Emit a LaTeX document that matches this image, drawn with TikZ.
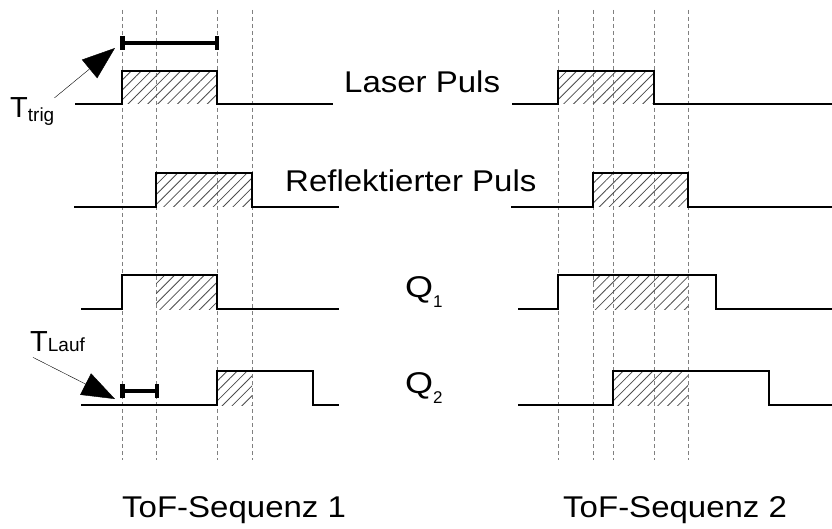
\documentclass[tikz,border=0pt]{standalone}
\usepackage{fontspec}
\setmainfont{Liberation Sans}
\usetikzlibrary{arrows.meta, patterns.meta}

\begin{document}
\begin{tikzpicture}[x=1pt, y=-1pt,
    signal/.style={line width=2.4pt, line join=miter},
    guide/.style={gray, line width=0.9pt, dash pattern=on 4pt off 3pt},
    hatch/.style={pattern={Lines[angle=45, distance=7pt, line width=0.8pt]}, pattern color=black!70},
    span/.style={line width=3.8pt, {Rectangle[length=4.5pt, width=14pt]}-{Rectangle[length=4.5pt, width=14pt]}},
    pointer/.style={thin, -{Triangle[length=33pt, width=24pt]}},
    sigtext/.style={inner sep=0pt, anchor=base west, font=\fontsize{30}{36}\selectfont}]
    \useasboundingbox (0,0) rectangle (832,529);
    % Dashed time marks
    \foreach \x in {122,156,217,252,558,593,613,654,688}
        \draw [guide] (\x,10) -- (\x,460);
    % Hatched overlap of the pulses
    \fill [hatch] (122,71) rectangle (217,104);
    \fill [hatch] (558,71) rectangle (654,104);
    \fill [hatch] (156,173) rectangle (252,207);
    \fill [hatch] (593,173) rectangle (688,207);
    \fill [hatch] (156,275) rectangle (217,309);
    \fill [hatch] (593,275) rectangle (688,309);
    \fill [hatch] (217,371) rectangle (252,405);
    \fill [hatch] (613,371) rectangle (688,405);
    % Laser pulse
    \draw [signal] (75,104) -- (122,104) -- (122,71) -- (217,71) -- (217,104) -- (333,104);
    \draw [signal] (512,104) -- (558,104) -- (558,71) -- (654,71) -- (654,104) -- (832,104);
    % Reflected pulse
    \draw [signal] (74,207) -- (156,207) -- (156,173) -- (252,173) -- (252,207) -- (339,207);
    \draw [signal] (511,207) -- (593,207) -- (593,173) -- (688,173) -- (688,207) -- (832,207);
    % Q1 window
    \draw [signal] (81,309) -- (122,309) -- (122,275) -- (217,275) -- (217,309) -- (339,309);
    \draw [signal] (518,309) -- (558,309) -- (558,275) -- (716,275) -- (716,309) -- (832,309);
    % Q2 window
    \draw [signal] (81,405) -- (217,405) -- (217,371) -- (313,371) -- (313,405) -- (339,405);
    \draw [signal] (518,405) -- (613,405) -- (613,371) -- (769,371) -- (769,405) -- (832,405);
    % Labels
    \node [sigtext] (laser) at (344,93) {\scalebox{1.1}[1]{Laser Puls}};
    \node [sigtext] (refl) at (285,192) {\scalebox{1.1}[1]{Reflektierter Puls}};
    \node [sigtext] (qone) at (405,297) {\scalebox{1.2}[1]{Q}\raisebox{-10pt}{\fontsize{17}{17}\selectfont 1}};
    \node [sigtext] (qtwo) at (405,393) {\scalebox{1.2}[1]{Q}\raisebox{-10pt}{\fontsize{17}{17}\selectfont 2}};
    \node [sigtext] (seqone) at (122,517) {\scalebox{1.1}[1]{ToF-Sequenz 1}};
    \node [sigtext] (seqtwo) at (563,517) {\scalebox{1.1}[1]{ToF-Sequenz 2}};
    \node [sigtext, font=\fontsize{29}{30}\selectfont] (ttrig) at (10,118) {T\raisebox{-4pt}{\fontsize{19}{19}\selectfont trig}};
    \node [sigtext, font=\fontsize{29}{30}\selectfont] (tlauf) at (30,351) {T{\fontsize{19}{19}\selectfont Lauf}};
    % Trigger time and time of flight
    \draw [span] (120,43) -- (219,43);
    \draw [span] (120,391) -- (159,391);
    \coordinate (trigtip) at (115,48);
    \coordinate (lauftip) at (115,399);
    \draw [pointer] (ttrig.north east) -- (trigtip);
    \draw [pointer] ([shift={(3,6)}]tlauf.south west) -- (lauftip);
\end{tikzpicture}
\end{document}
